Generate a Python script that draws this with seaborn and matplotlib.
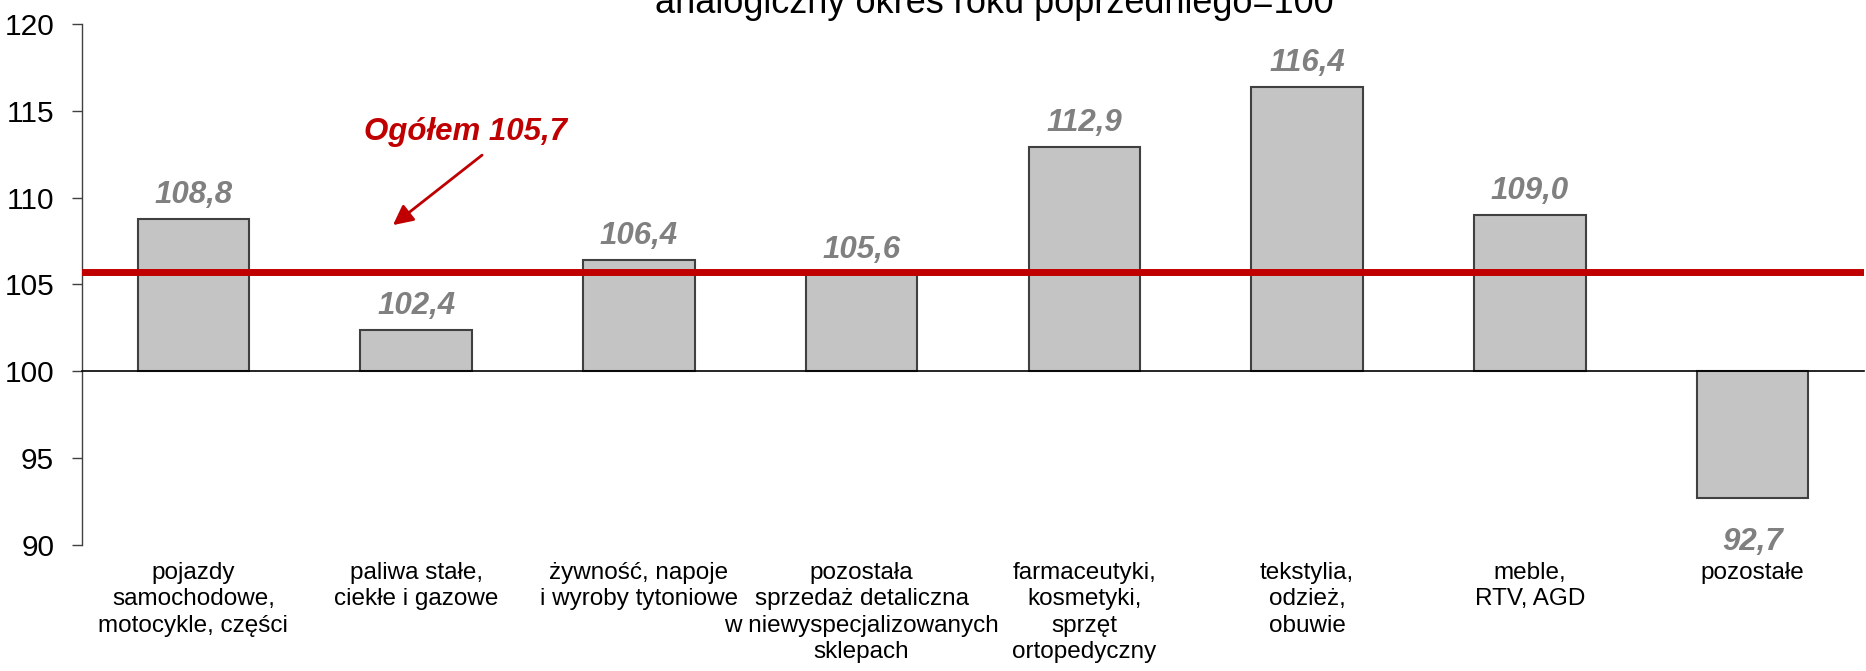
import numpy as np
import pandas as pd
import matplotlib
matplotlib.use("Agg")
import matplotlib.pyplot as plt
import seaborn as sns

# Retail sales by category, same period of previous year = 100
categories = [
    "pojazdy\nsamochodowe,\nmotocykle, części",
    "paliwa stałe,\nciekłe i gazowe",
    "żywność, napoje\ni wyroby tytoniowe",
    "pozostała\nsprzedaż detaliczna\nw niewyspecjalizowanych\nsklepach",
    "farmaceutyki,\nkosmetyki,\nsprzęt\nortopedyczny",
    "tekstylia,\nodzież,\nobuwie",
    "meble,\nRTV, AGD",
    "pozostałe",
]
values = [108.8, 102.4, 106.4, 105.6, 112.9, 116.4, 109.0, 92.7]
total_value = 105.7
base_value = 100
y_ticks = [90, 95, 100, 105, 110, 115, 120]
title_text = "analogiczny okres roku poprzedniego=100"
total_label = "Ogółem 105,7"

BAR_FACE = "#C4C4C4"
BAR_EDGE = "#404040"
VALUE_GREY = "#808080"
RED = "#C00000"

sns.set_style("white")
plt.rcParams["font.family"] = ["Liberation Sans", "DejaVu Sans"]

df = pd.DataFrame({"kategoria": categories,
                   "zmiana": [v - base_value for v in values]})

fig = plt.figure(figsize=(18.66, 6.71), dpi=100)
ax = fig.add_axes([82 / 1866, 1 - 545 / 671, 1782 / 1866, 521 / 671])

sns.barplot(data=df, x="kategoria", y="zmiana", order=categories,
            color=BAR_FACE, saturation=1, edgecolor=BAR_EDGE, linewidth=1.5,
            width=0.5, bottom=base_value, errorbar=None, ax=ax)

ax.set_xlim(-0.5, len(categories) - 0.5)
ax.set_ylim(y_ticks[0], y_ticks[-1])
ax.set_yticks(y_ticks)
ax.set_xlabel("")
ax.set_ylabel("")

# category axis runs along the 100 level, ticks between categories
ax.spines["bottom"].set_position(("data", base_value))
ax.spines["bottom"].set_color("black")
ax.spines["bottom"].set_linewidth(1.2)
ax.spines["left"].set_color(BAR_EDGE)
ax.spines["left"].set_linewidth(1.0)
ax.spines["top"].set_visible(False)
ax.spines["right"].set_visible(False)
ax.set_xticks(np.arange(-0.5, len(categories), 1.0))
ax.set_xticklabels([])
ax.tick_params(axis="x", direction="inout", length=10, width=1.2, color="black")
ax.tick_params(axis="y", direction="out", length=7, width=1.0, color=BAR_EDGE,
               labelsize=21.5, pad=13, left=True, labelcolor="black")

# category names below the plot area
for i, cat in enumerate(categories):
    ax.annotate(cat, xy=(i, 0), xycoords=("data", "axes fraction"),
                xytext=(0, -12), textcoords="offset points",
                ha="center", va="top", fontsize=17.5, linespacing=1.27,
                color="black")

# value labels
for i, v in enumerate(values):
    txt = f"{v:.1f}".replace(".", ",")
    if v >= base_value:
        ax.annotate(txt, xy=(i, v), xytext=(0, 11.5), textcoords="offset points",
                    ha="center", va="baseline", fontsize=22.5, fontweight="bold",
                    fontstyle="italic", color=VALUE_GREY)
    else:
        ax.annotate(txt, xy=(i, v), xytext=(0, -21), textcoords="offset points",
                    ha="center", va="top", fontsize=22.5, fontweight="bold",
                    fontstyle="italic", color=VALUE_GREY)

# overall level
ax.axhline(total_value, color=RED, linewidth=5, zorder=5)
ax.text(1.22, 113.3, total_label, ha="center", va="baseline", fontsize=22.5,
        fontweight="bold", fontstyle="italic", color=RED)
ax.annotate("", xy=(0.896, 108.42), xytext=(1.296, 112.45),
            arrowprops=dict(arrowstyle="-|>", color=RED, lw=2,
                            mutation_scale=30, shrinkA=0, shrinkB=0))

fig.text(0.533, 1 - 13 / 671, title_text, ha="center", va="baseline",
         fontsize=26, color="black")

fig.savefig("out.png", dpi=100)
